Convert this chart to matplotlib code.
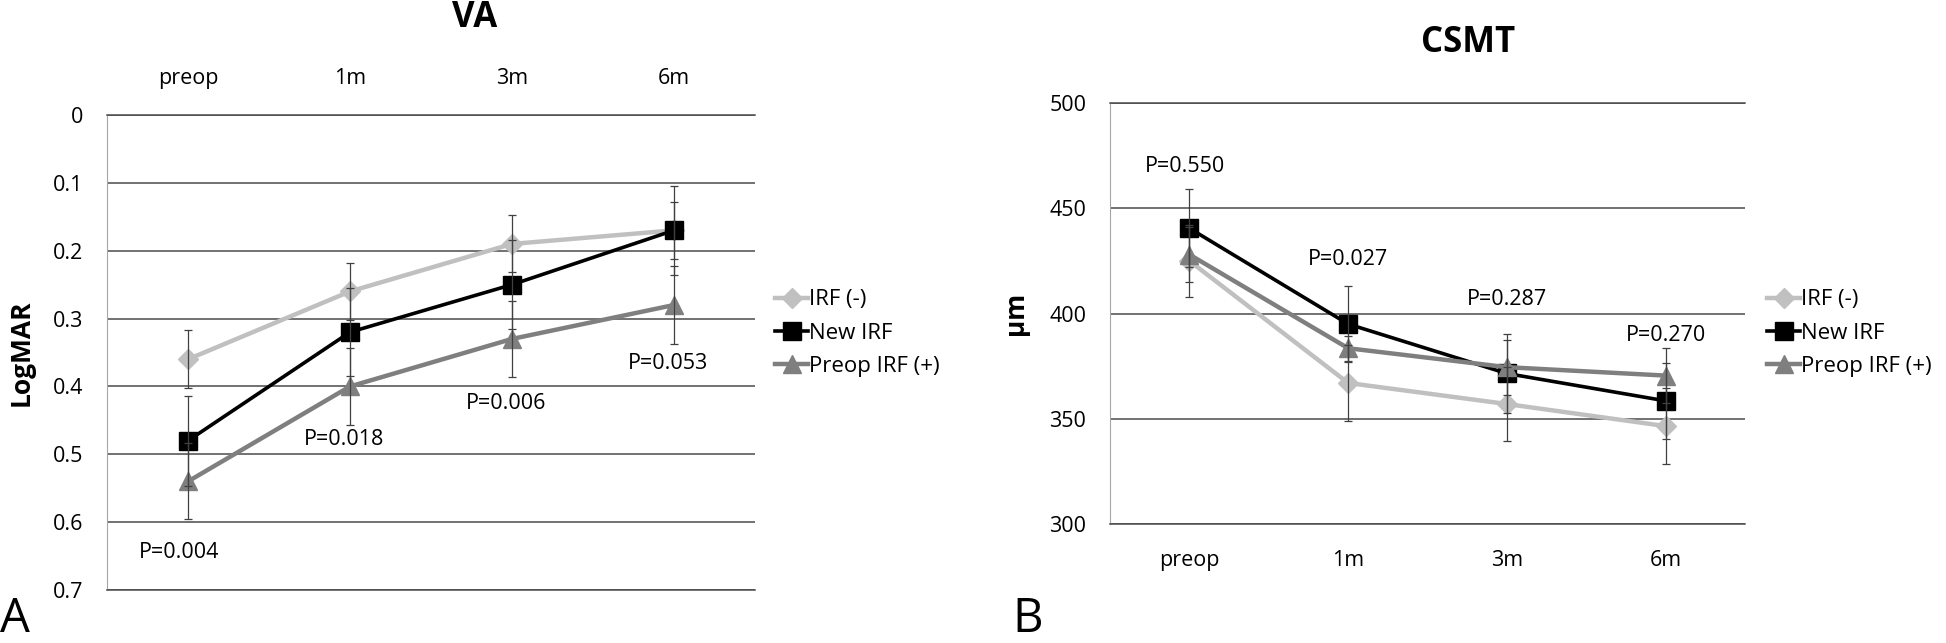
"""
VA (LogMAR) и CSMT (мкм) по визитам для трёх групп IRF, с p-значениями.
"""
import numpy as np
import matplotlib
matplotlib.use("Agg")
import matplotlib.pyplot as plt

plt.rcParams["font.family"] = ["Open Sans", "DejaVu Sans"]

CATS = ["preop", "1m", "3m", "6m"]
SERIES = ["IRF (-)", "New IRF", "Preop IRF (+)"]

# --- VA, LogMAR ---
VA_IRF_NEG = [0.36, 0.26, 0.19, 0.17]
VA_IRF_NEG_ERR = [0.043, 0.042, 0.042, 0.042]
VA_NEW = [0.48, 0.32, 0.25, 0.17]
VA_NEW_ERR = [0.066, 0.065, 0.066, 0.066]
VA_IRF_POS = [0.54, 0.40, 0.33, 0.28]
VA_IRF_POS_ERR = [0.056, 0.057, 0.056, 0.057]
VA_P = ["P=0.004", "P=0.018", "P=0.006", "P=0.053"]
VA_P_Y = [0.645, 0.478, 0.425, 0.366]

# --- CSMT, мкм ---
CS_IRF_NEG = [425.0, 367.0, 357.0, 346.5]
CS_IRF_NEG_ERR = [17.0, 18.0, 17.5, 18.0]
CS_NEW = [440.5, 395.0, 371.5, 358.5]
CS_NEW_ERR = [18.5, 18.0, 18.6, 18.0]
CS_IRF_POS = [428.0, 383.5, 374.5, 370.5]
CS_IRF_POS_ERR = [13.0, 6.0, 13.0, 13.0]
CS_P = ["P=0.550", "P=0.027", "P=0.287", "P=0.270"]
CS_P_Y = [470.0, 425.5, 406.5, 389.5]

STYLES = [
    dict(color="#c0c0c0", marker="D", markersize=10, lw=3.2),
    dict(color="#000000", marker="s", markersize=13, lw=2.6),
    dict(color="#7f7f7f", marker="^", markersize=13, lw=3.2),
]
GRID_C = "#4a4a4a"
FS = 15.5


def draw(ax, vals, errs, ylim, yticks, ylabel, top_ticks):
    x = np.arange(len(CATS))
    handles = []
    for v, e, st in zip(vals, errs, STYLES):
        h, = ax.plot(x, v, color=st["color"], lw=st["lw"], marker=st["marker"],
                     markersize=st["markersize"], markeredgecolor=st["color"], zorder=3)
        ax.errorbar(x, v, yerr=e, fmt="none", ecolor="#404040", elinewidth=0.9,
                    capsize=3, capthick=0.9, zorder=4)
        handles.append(h)
    ax.set_xlim(-0.5, len(CATS) - 0.5)
    ax.set_ylim(*ylim)
    ax.set_yticks(yticks)
    ax.set_yticklabels([f"{t:g}" for t in yticks], fontsize=FS)
    ax.set_xticks(x)
    ax.set_xticklabels(CATS, fontsize=FS)
    if top_ticks:
        ax.xaxis.tick_top()
    ax.tick_params(axis="both", length=0)
    ax.tick_params(axis="y", pad=17)
    ax.tick_params(axis="x", pad=19)
    ax.grid(axis="y", color=GRID_C, lw=1.1)
    ax.set_axisbelow(True)
    for s in ("top", "bottom"):
        ax.spines[s].set_color(GRID_C)
        ax.spines[s].set_linewidth(1.1)
    ax.spines["right"].set_visible(False)
    ax.spines["left"].set_color("#a6a6a6")
    ax.set_ylabel(ylabel, fontsize=19, fontweight="bold")
    return handles


fig = plt.figure(figsize=(19.46, 6.43), dpi=100)
W, H = 1946.0, 643.0
axA = fig.add_axes([107 / W, 1 - 590 / H, 648 / W, 475 / H])
axB = fig.add_axes([1110 / W, 1 - 524 / H, 635 / W, 421 / H])

hA = draw(axA, [VA_IRF_NEG, VA_NEW, VA_IRF_POS],
          [VA_IRF_NEG_ERR, VA_NEW_ERR, VA_IRF_POS_ERR],
          (0.7, 0.0), np.round(np.arange(0, 0.71, 0.1), 1), "LogMAR", True)
axA.yaxis.set_label_coords(-0.112, 0.5)
for i, (t, y) in enumerate(zip(VA_P, VA_P_Y)):
    dx = -0.055 if i == 0 else -0.035
    axA.text(i + dx, y, t, fontsize=FS, ha="center", va="center")

hB = draw(axB, [CS_IRF_NEG, CS_NEW, CS_IRF_POS],
          [CS_IRF_NEG_ERR, CS_NEW_ERR, CS_IRF_POS_ERR],
          (300, 500), [300, 350, 400, 450, 500], "μm", False)
axB.yaxis.set_label_coords(-0.128, 0.5)
for i, (t, y) in enumerate(zip(CS_P, CS_P_Y)):
    dx = -0.025 if i == 0 else 0.0
    axB.text(i + dx, y, t, fontsize=FS, ha="center", va="center")

leg_kw = dict(loc="center left", frameon=False, fontsize=16, handlelength=1.5,
              handletextpad=0.05, labelspacing=0.55, borderpad=0, borderaxespad=0)
fig.legend(hA, SERIES, bbox_to_anchor=(775 / W, 1 - 333 / H), **leg_kw)
fig.legend(hB, SERIES, bbox_to_anchor=(1767 / W, 1 - 333 / H), **leg_kw)

fig.text(475 / W, 1 - 18 / H, "VA", fontsize=25, fontweight="bold", ha="center", va="center")
fig.text(1468 / W, 1 - 43 / H, "CSMT", fontsize=25, fontweight="bold", ha="center", va="center")
fig.text(0, 0, "A", fontsize=34, ha="left", va="bottom")
fig.text(1012 / W, 0, "B", fontsize=34, ha="left", va="bottom")

fig.savefig("out.png", dpi=100)
